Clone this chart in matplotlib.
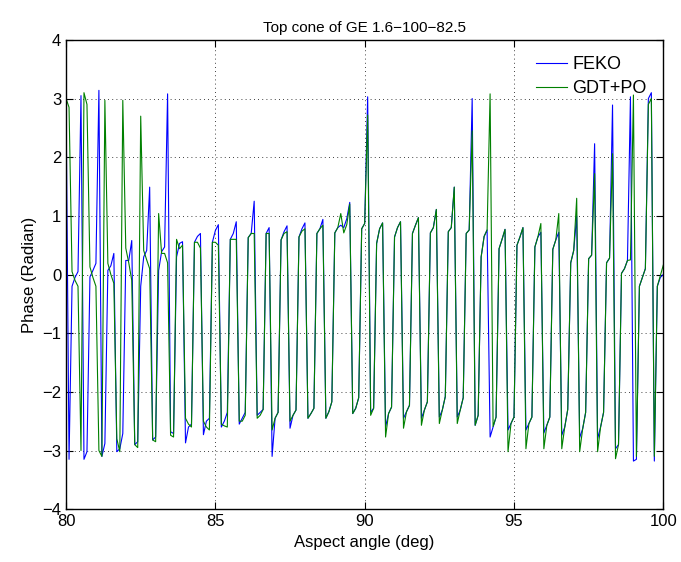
import numpy as np
import matplotlib.pyplot as plt

plt.rcParams['font.family'] = ['Liberation Sans', 'DejaVu Sans']

# aspect angle, 0.1 deg step
angle = np.linspace(80, 100, 201)

feko = [2.95, -3.15, -0.20, -0.05, 0.05, 3.05, -3.15, -3.02, -0.04, 0.07,
        0.19, 3.14, -3.10, -2.88, 0.07, 0.15, 0.36, -3.02, -2.97, -2.71,
        0.24, 0.24, 0.58, -2.90, -2.85, -0.20, 0.30, 0.41, 1.49, -2.82,
        -2.77, 0.07, 0.39, 0.47, 3.08, -2.68, -2.71, 0.30, 0.53, 0.56,
        -2.87, -2.60, -2.55, 0.55, 0.65, 0.70, -2.73, -2.50, -2.45, 0.55,
        0.75, 0.85, -2.60, -2.50, -2.35, 0.60, 0.70, 0.90, -2.55, -2.45,
        -2.35, 0.63, 0.70, 1.25, -2.40, -2.35, -2.30, 0.70, 0.80, -3.10,
        -2.45, -2.35, 0.59, 0.73, 0.83, -2.62, -2.40, -2.31, 0.64, 0.78,
        0.88, -2.45, -2.37, -2.28, 0.70, 0.78, 0.94, -2.45, -2.34, -2.17,
        0.71, 0.80, 0.84, 0.80, 0.95, 1.23, -2.37, -2.28, -2.10, 0.78,
        0.87, 3.03, -2.35, -2.28, 0.53, 0.78, 0.88, -2.60, -2.37, -2.26,
        0.64, 0.80, 0.90, -2.45, -2.34, -2.23, 0.70, 0.84, 0.97, -2.45,
        -2.31, -2.17, 0.71, 0.80, 1.11, -2.43, -2.31, -2.08, 0.73, 0.80,
        1.49, -2.43, -2.31, -2.10, 0.70, 0.76, 3.00, -2.57, -2.40, 0.30,
        0.65, 0.76, -2.77, -2.60, -2.43, 0.44, 0.60, 0.77, -2.65, -2.54,
        -2.43, 0.50, 0.64, 0.80, -2.65, -2.54, -2.43, 0.47, 0.64, 0.72,
        -2.70, -2.57, -2.43, 0.43, 0.59, 0.72, -2.74, -2.60, -2.30, 0.20,
        0.41, 1.00, -2.78, -2.63, -2.35, 0.27, 0.33, 2.23, -2.80, -2.60,
        -2.35, 0.20, 0.28, 2.89, -2.97, -2.90, 0.02, 0.10, 0.24, 3.03,
        -3.18, -3.15, -0.20, -0.05, 0.10, 3.00, 3.10, -3.18, -0.20, -0.05,
        0.00]

gdt_po = [3.00, 2.85, 0.05, -0.10, -0.20, -3.00, 3.10, 2.90, 0.13, -0.05,
          -0.20, -3.00, -3.10, 2.97, 0.19, 0.00, -0.15, -2.80, -3.02, 2.97,
          0.45, 0.20, -0.10, -2.90, -2.95, 2.70, 0.41, 0.25, 0.10, -2.82,
          -2.85, 1.04, 0.36, 0.36, 0.20, -2.74, -2.77, 0.60, 0.44, 0.50,
          -2.45, -2.55, -2.60, 0.55, 0.55, 0.45, -2.50, -2.60, -2.65, 0.55,
          0.55, 0.50, -2.55, -2.58, -2.60, 0.60, 0.60, 0.60, -2.50, -2.50,
          -2.40, 0.63, 0.70, 0.70, -2.45, -2.40, -2.30, 0.70, 0.70, -2.65,
          -2.45, -2.35, 0.59, 0.70, 0.73, -2.50, -2.40, -2.31, 0.64, 0.74,
          0.78, -2.45, -2.37, -2.28, 0.70, 0.78, 0.84, -2.45, -2.34, -2.17,
          0.71, 0.80, 1.04, 0.71, 0.85, 1.20, -2.37, -2.28, -2.10, 0.78,
          0.87, 2.72, -2.40, -2.28, 0.53, 0.78, 0.88, -2.77, -2.37, -2.26,
          0.64, 0.80, 0.90, -2.62, -2.34, -2.23, 0.70, 0.84, 0.97, -2.57,
          -2.31, -2.17, 0.71, 0.80, 1.11, -2.54, -2.31, -2.08, 0.73, 0.80,
          1.49, -2.54, -2.31, -2.10, 0.70, 0.76, 2.45, -2.57, -2.40, 0.30,
          0.65, 0.76, 3.08, -2.59, -2.43, 0.44, 0.60, 0.77, -3.02, -2.54,
          -2.43, 0.50, 0.64, 0.80, -2.97, -2.54, -2.43, 0.47, 0.64, 0.87,
          -2.97, -2.57, -2.43, 0.43, 0.59, 1.04, -2.97, -2.60, -2.30, 0.20,
          0.41, 1.30, -3.02, -2.63, -2.35, 0.27, 0.33, 1.72, -3.02, -2.60,
          -2.35, 0.20, 0.28, 2.06, -3.14, -2.90, 0.02, 0.10, 0.24, 0.25,
          3.06, -3.10, -0.20, -0.05, 0.10, 2.90, 3.00, -3.10, -0.20, -0.02,
          0.16]

fig = plt.figure(figsize=(6.81, 5.62), dpi=100)
ax = fig.add_axes([0.097, 0.094, 0.877, 0.835])

ax.plot(angle, feko, color='blue', lw=0.8, label='FEKO')
ax.plot(angle, gdt_po, color='green', lw=0.8, label='GDT+PO')

ax.set_xlim(80, 100)
ax.set_ylim(-4, 4)
ax.set_xticks([80, 85, 90, 95, 100])
ax.set_yticks(np.arange(-4, 5, 1))
ax.grid(True, color='black', linestyle=(0, (1, 4)), linewidth=0.6)
ax.tick_params(direction='in', top=True, right=True, labelsize=12, length=5)
for s in ax.spines.values():
    s.set_linewidth(1.0)

ax.set_title('Top cone of GE 1.6\u2212100\u221282.5', fontsize=11)
ax.set_xlabel('Aspect angle (deg)', fontsize=12)
ax.set_ylabel('Phase (Radian)', fontsize=12)

leg = ax.legend(loc='upper right', bbox_to_anchor=(0.987, 0.985),
                frameon=False, fontsize=13,
                handlelength=1.7, handletextpad=0.3, borderaxespad=0.1,
                labelspacing=0.4)

fig.savefig('out.png', dpi=100)
